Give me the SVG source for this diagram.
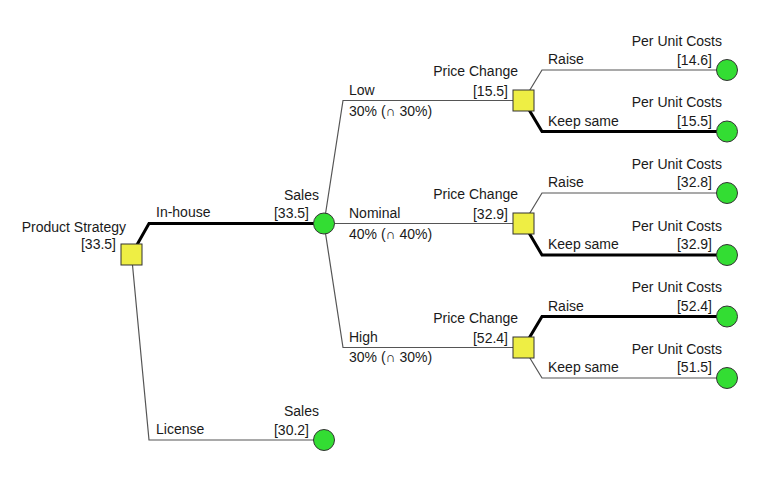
<svg xmlns="http://www.w3.org/2000/svg" width="770" height="496" viewBox="0 0 770 496">
<style>
text{font-family:"Liberation Sans",Arial,sans-serif;font-size:14px;fill:#1a1a1a}
.e{text-anchor:end}
.thin{fill:none;stroke:#555;stroke-width:1.2}
.thick{fill:none;stroke:#000;stroke-width:3}
.dec{fill:#eeee44;stroke:#333;stroke-width:1}
.ch{fill:#33dd33;stroke:#333;stroke-width:1}
</style>
<rect width="770" height="496" fill="#fff"/>
<g id="connectors">
<path class="thick" d="M131.5,254.5 L149,223.5 L324,223.5"/>
<path class="thin" d="M131.5,254.5 L149,440 L324,440"/>
<path class="thin" d="M324,223.5 L343,100.5 L523.5,100.5"/>
<path class="thin" d="M324,223.5 L523.5,223.5"/>
<path class="thin" d="M324,223.5 L343,347.5 L523.5,347.5"/>
<path class="thin" d="M523.5,100.5 L542,70 L727,70"/>
<path class="thick" d="M523.5,100.5 L542,131.5 L727,131.5"/>
<path class="thin" d="M523.5,223.5 L542,193 L727,193"/>
<path class="thick" d="M523.5,223.5 L542,255 L727,255"/>
<path class="thick" d="M523.5,347.5 L542,316.5 L727,316.5"/>
<path class="thin" d="M523.5,347.5 L542,378 L727,378"/>
<text x="156" y="217">In-house</text>
<text x="156" y="434">License</text>
<text x="349" y="95">Low</text>
<text x="349" y="115.5">30% (∩ 30%)</text>
<text x="349" y="218">Nominal</text>
<text x="349" y="238.5">40% (∩ 40%)</text>
<text x="349" y="341.5">High</text>
<text x="349" y="362">30% (∩ 30%)</text>
<text x="548" y="64">Raise</text>
<text x="548" y="125.5">Keep same</text>
<text x="548" y="187">Raise</text>
<text x="548" y="249">Keep same</text>
<text x="548" y="310.5">Raise</text>
<text x="548" y="372">Keep same</text>
</g>
<g id="root">
<rect class="dec" x="121" y="244" width="21" height="21"/>
<text class="e" x="126" y="232">Product Strategy</text>
<text class="e" x="116" y="249">[33.5]</text>
</g>
<g id="sales-inhouse">
<circle class="ch" cx="324" cy="223.5" r="10.5"/>
<text class="e" x="319" y="200">Sales</text>
<text class="e" x="309" y="218">[33.5]</text>
</g>
<g id="sales-license">
<circle class="ch" cx="324" cy="440" r="10.5"/>
<text class="e" x="319" y="416">Sales</text>
<text class="e" x="309" y="434.5">[30.2]</text>
</g>
<g id="price-low">
<rect class="dec" x="513" y="90" width="21" height="21"/>
<text class="e" x="518" y="76">Price Change</text>
<text class="e" x="508" y="95.5">[15.5]</text>
</g>
<g id="price-nominal">
<rect class="dec" x="513" y="213" width="21" height="21"/>
<text class="e" x="518" y="199">Price Change</text>
<text class="e" x="508" y="218.5">[32.9]</text>
</g>
<g id="price-high">
<rect class="dec" x="513" y="337" width="21" height="21"/>
<text class="e" x="518" y="323">Price Change</text>
<text class="e" x="508" y="342.5">[52.4]</text>
</g>
<g id="cost-low-raise">
<circle class="ch" cx="727" cy="70" r="10.5"/>
<text class="e" x="722" y="46">Per Unit Costs</text>
<text class="e" x="712" y="64.5">[14.6]</text>
</g>
<g id="cost-low-keep">
<circle class="ch" cx="727" cy="131.5" r="10.5"/>
<text class="e" x="722" y="107">Per Unit Costs</text>
<text class="e" x="712" y="125.5">[15.5]</text>
</g>
<g id="cost-nominal-raise">
<circle class="ch" cx="727" cy="193" r="10.5"/>
<text class="e" x="722" y="168.5">Per Unit Costs</text>
<text class="e" x="712" y="187">[32.8]</text>
</g>
<g id="cost-nominal-keep">
<circle class="ch" cx="727" cy="255" r="10.5"/>
<text class="e" x="722" y="230.5">Per Unit Costs</text>
<text class="e" x="712" y="249">[32.9]</text>
</g>
<g id="cost-high-raise">
<circle class="ch" cx="727" cy="316.5" r="10.5"/>
<text class="e" x="722" y="292">Per Unit Costs</text>
<text class="e" x="712" y="310.5">[52.4]</text>
</g>
<g id="cost-high-keep">
<circle class="ch" cx="727" cy="378" r="10.5"/>
<text class="e" x="722" y="353.5">Per Unit Costs</text>
<text class="e" x="712" y="372">[51.5]</text>
</g>
</svg>
